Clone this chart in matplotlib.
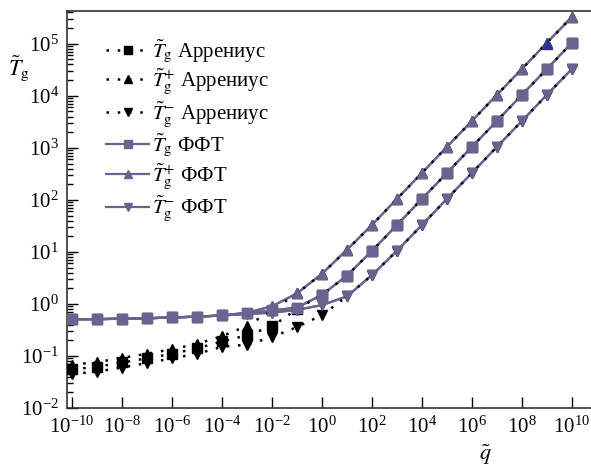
#!/usr/bin/env python3
import matplotlib
matplotlib.use('Agg')
import matplotlib.pyplot as plt
import numpy as np

plt.rcParams['font.family'] = ['Liberation Serif', 'DejaVu Serif']
plt.rcParams['mathtext.fontset'] = 'stix'

# dimensionless heating rate, one point per decade
q = [10.0**k for k in range(-10, 11)]

# Arrhenius estimate (dotted, black markers)
tg_arr = [0.055, 0.062, 0.075, 0.09, 0.11, 0.14, 0.19, 0.25, 0.37, 0.8, 1.5,
          3.5, 10.5, 33, 105, 330, 1050, 3300, 10500, 33000, 105000]
tgp_arr = [0.068, 0.076, 0.092, 0.11, 0.135, 0.17, 0.24, 0.38, 0.75, 1.6, 3.8,
           11, 33, 105, 330, 1050, 3300, 10500, 33000, 105000, 330000]
tgm_arr = [0.045, 0.05, 0.06, 0.073, 0.09, 0.11, 0.15, 0.165, 0.23, 0.36, 0.61,
           1.4, 3.6, 10.5, 33, 105, 330, 1050, 3300, 10500, 33000]

# full kinetic (FFT) solution
tg_fft = [0.51, 0.51, 0.52, 0.53, 0.55, 0.57, 0.6, 0.66, 0.75, 0.85, 1.5,
          3.5, 10.5, 33, 105, 330, 1050, 3300, 10500, 33000, 105000]
tgp_fft = [0.51, 0.51, 0.52, 0.53, 0.55, 0.57, 0.6, 0.68, 0.9, 1.6, 3.8,
           11, 33, 105, 330, 1050, 3300, 10500, 33000, 105000, 330000]
tgm_fft = [0.51, 0.51, 0.52, 0.53, 0.55, 0.57, 0.6, 0.64, 0.68, 0.77, 0.95,
           1.4, 3.6, 10.5, 33, 105, 330, 1050, 3300, 10500, 33000]

# highlighted point on the T+ curve
q_mark = [1e9]
tg_mark = [1e5]

purple = '#67658f'
dots = (0, (1, 3.5))
fig = plt.figure(figsize=(5.91, 4.71), dpi=100)
ax = fig.add_axes([67/591, 1 - 408/471, 1 - 67/591, (408 - 11)/471])

lines = []
for y, m, lab in [(tg_fft, 's', r'$\tilde{T}_\mathrm{g}$ ФФТ'),
                  (tgp_fft, '^', r'$\tilde{T}_\mathrm{g}^{+}$ ФФТ'),
                  (tgm_fft, 'v', r'$\tilde{T}_\mathrm{g}^{-}$ ФФТ')]:
    ax.plot(q, y, '-', color=purple, lw=1.6, zorder=2)
    l, = ax.plot(q, y, '-', color=purple, lw=1.6, marker=m, ms=7.5,
                 mfc=purple, mec=purple, label=lab, zorder=1)
    lines.append(l)

arr = []
for y, m, lab in [(tg_arr, 's', r'$\tilde{T}_\mathrm{g}$ Аррениус'),
                  (tgp_arr, '^', r'$\tilde{T}_\mathrm{g}^{+}$ Аррениус'),
                  (tgm_arr, 'v', r'$\tilde{T}_\mathrm{g}^{-}$ Аррениус')]:
    l, = ax.plot(q, y, ls=dots, color='black', lw=1.8, marker=m, ms=7,
                 mfc='black', mec='black', label=lab, zorder=3)
    arr.append(l)

# markers of the FFT curves go above the dotted lines
for y, m in [(tg_fft, 's'), (tgp_fft, '^'), (tgm_fft, 'v')]:
    ax.plot(q, y, ls='none', marker=m, ms=7.5, mfc=purple, mec=purple, zorder=4)
ax.plot(q_mark, tg_mark, ls='none', marker='^', ms=7.5, color='#2e2f90', zorder=5)

ax.set_xscale('log')
ax.set_yscale('log')
ax.set_xlim(10**-10.2, 10**10.76)
ax.set_ylim(1e-2, 10**5.63)
ax.set_xticks([10.0**k for k in range(-10, 11, 2)])
ax.xaxis.set_minor_locator(matplotlib.ticker.NullLocator())
ax.set_yticks([10.0**k for k in range(-2, 6)])
ax.yaxis.set_minor_locator(matplotlib.ticker.LogLocator(base=10, subs=np.arange(2, 10), numticks=20))
ax.yaxis.set_minor_formatter(matplotlib.ticker.NullFormatter())
ax.tick_params(which='major', direction='in', length=8, width=1, labelsize=15, pad=6)
ax.tick_params(which='minor', direction='in', length=4.5, width=1)
ax.spines['right'].set_visible(False)
for s in ['left', 'top', 'bottom']:
    ax.spines[s].set_linewidth(1.2)
    ax.spines[s].set_color('#333333')

leg = ax.legend(handles=arr + lines, loc='upper left', bbox_to_anchor=(0.058, 0.955),
                frameon=False, fontsize=15, handlelength=2.1, handletextpad=0.1,
                labelspacing=0.12, borderaxespad=0, markerscale=0.85)

fig.text(8/591, 1 - 68/471, r'$\tilde{T}_\mathrm{g}$', fontsize=16, va='center')
fig.text(485/591, 1 - 455/471, r'$\tilde{q}$', fontsize=16, ha='center', va='center')

fig.savefig('out.png', dpi=100)
